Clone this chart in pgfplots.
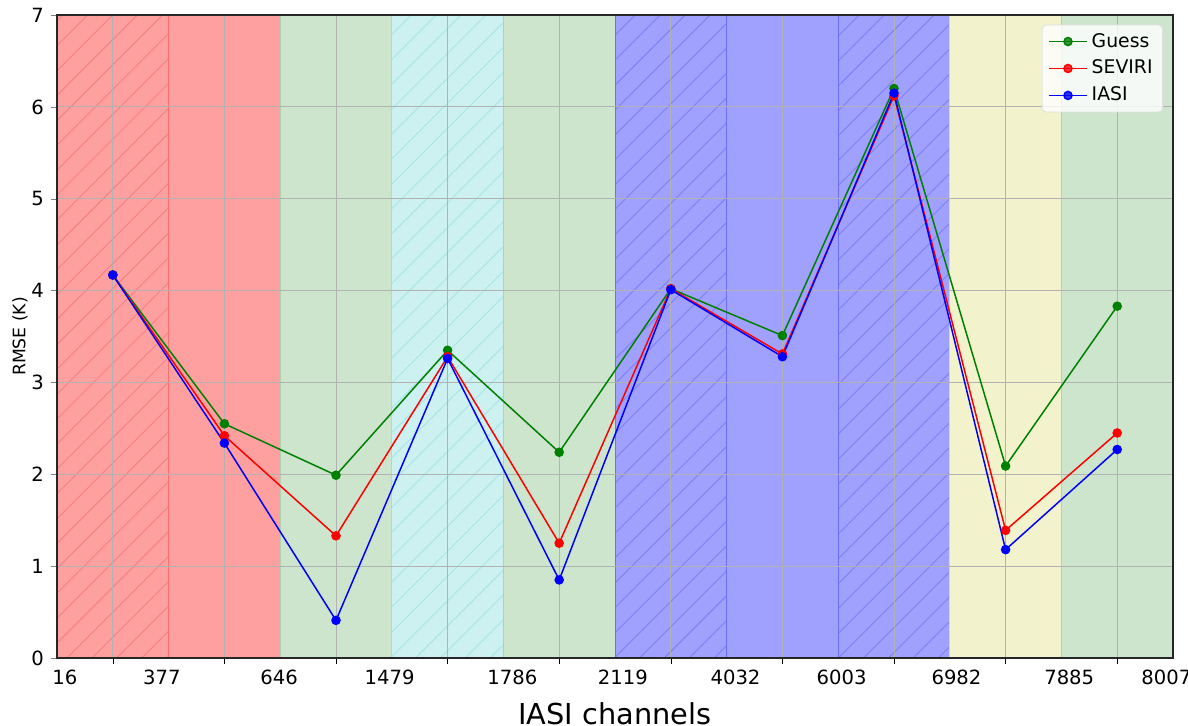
\documentclass[border=0pt]{standalone}
\usepackage{pgfplots}
\pgfplotsset{compat=1.18}
\usepackage{fontspec}
\setmainfont{DejaVu Sans}
\usetikzlibrary{patterns.meta}
\definecolor{redband}{RGB}{255,160,160}
\definecolor{rededge}{RGB}{255,110,110}
\definecolor{redhatch}{RGB}{245,128,128}
\definecolor{greenband}{RGB}{205,228,205}
\definecolor{greenedge}{RGB}{175,210,175}
\definecolor{cyanband}{RGB}{205,240,240}
\definecolor{cyanedge}{RGB}{160,225,215}
\definecolor{cyanhatch}{RGB}{168,228,228}
\definecolor{blueband}{RGB}{160,160,255}
\definecolor{blueedge}{RGB}{110,110,250}
\definecolor{bluehatch}{RGB}{128,128,245}
\definecolor{yellowband}{RGB}{242,242,205}
\definecolor{yellowedge}{RGB}{212,222,170}
\definecolor{mgreen}{RGB}{0,128,0}
\definecolor{gridgray}{RGB}{178,178,178}
\pgfplotstableread{
x guess seviri iasi
0.5 4.17 4.17 4.17
1.5 2.55 2.42 2.34
2.5 1.99 1.33 0.41
3.5 3.35 3.28 3.26
4.5 2.24 1.25 0.85
5.5 4.02 4.02 4.01
6.5 3.51 3.31 3.28
7.5 6.20 6.12 6.15
8.5 2.09 1.39 1.18
9.5 3.83 2.45 2.27
}\datatable
\tikzset{hatch/.style={postaction={pattern={Lines[angle=45,distance=8.8pt,line width=0.45pt]},pattern color=#1}}}
\begin{document}
\begin{tikzpicture}
\begin{axis}[
  set layers,
  scale only axis,
  width=558pt, height=321.5pt,
  xmin=0, xmax=10, ymin=0, ymax=7,
  xtick={0.07,0.94,1.99,2.98,4.08,5.07,6.08,7.03,8.06,9.07,9.94},
  xticklabels={16,377,646,1479,1786,2119,4032,6003,6982,7885,8007},
  minor xtick={0.5,1.5,...,9.5},
  ytick={0,...,7},
  tick align=outside,
  xtick pos=bottom, ytick pos=left,
  x tick style={draw=none},
  minor x tick style={draw=black},
  minor tick length=3pt,
  major tick length=3pt,
  xminorgrids, ymajorgrids,
  grid style={gridgray, line width=0.5pt},
  minor grid style={gridgray, line width=0.5pt},
  axis line style={line width=0.6pt, black!85},
  /pgf/number format/assume math mode=true,
  tick label style={font=\fontsize{9.8}{11}\selectfont},
  xticklabel style={yshift=0.5pt},
  xlabel={IASI channels},
  ylabel={RMSE (K)},
  xlabel style={font=\fontsize{14.4}{16}\selectfont, yshift=-2pt},
  ylabel style={font=\fontsize{8.6}{10}\selectfont},
  ylabel shift=-5pt,
  legend style={at={(rel axis cs:0.991,0.985)}, anchor=north east,
    font=\fontsize{9.4}{11}\selectfont, draw=black!12, rounded corners=2pt,
    fill=white, fill opacity=0.8, text opacity=1, row sep=1pt,
    inner xsep=3pt, inner ysep=2pt},
  legend cell align=left,
  legend image code/.code={\draw[mark repeat=2,mark phase=2] plot coordinates {(0pt,0pt) (9.5pt,0pt) (19pt,0pt)};},
]
% bands
\addplot[forget plot, on layer=axis background, fill=redband, draw=rededge, line width=0.5pt, hatch=redhatch] coordinates {(0,0)(0,7)(1,7)(1,0)(0,0)};
\addplot[forget plot, on layer=axis background, fill=redband, draw=rededge, line width=0.5pt] coordinates {(1,0)(1,7)(2,7)(2,0)(1,0)};
\addplot[forget plot, on layer=axis background, fill=greenband, draw=greenedge, line width=0.5pt] coordinates {(2,0)(2,7)(3,7)(3,0)(2,0)};
\addplot[forget plot, on layer=axis background, fill=cyanband, draw=cyanedge, line width=0.5pt, hatch=cyanhatch] coordinates {(3,0)(3,7)(4,7)(4,0)(3,0)};
\addplot[forget plot, on layer=axis background, fill=greenband, draw=greenedge, line width=0.5pt] coordinates {(4,0)(4,7)(5,7)(5,0)(4,0)};
\addplot[forget plot, on layer=axis background, fill=blueband, draw=blueedge, line width=0.5pt, hatch=bluehatch] coordinates {(5,0)(5,7)(6,7)(6,0)(5,0)};
\addplot[forget plot, on layer=axis background, fill=blueband, draw=blueedge, line width=0.5pt] coordinates {(6,0)(6,7)(7,7)(7,0)(6,0)};
\addplot[forget plot, on layer=axis background, fill=blueband, draw=blueedge, line width=0.5pt, hatch=bluehatch] coordinates {(7,0)(7,7)(8,7)(8,0)(7,0)};
\addplot[forget plot, on layer=axis background, fill=yellowband, draw=yellowedge, line width=0.5pt] coordinates {(8,0)(8,7)(9,7)(9,0)(8,0)};
\addplot[forget plot, on layer=axis background, fill=greenband, draw=greenedge, line width=0.5pt] coordinates {(9,0)(9,7)(10,7)(10,0)(9,0)};
% series
\addplot[mgreen, line width=0.75pt, mark=*, mark size=2pt] table[x=x, y=guess] {\datatable};
\addlegendentry{Guess}
\addplot[red, line width=0.75pt, mark=*, mark size=2pt] table[x=x, y=seviri] {\datatable};
\addlegendentry{SEVIRI}
\addplot[blue, line width=0.75pt, mark=*, mark size=2pt] table[x=x, y=iasi] {\datatable};
\addlegendentry{IASI}
\coordinate (sw) at (rel axis cs:0,0);
\end{axis}
\pgfresetboundingbox
\path[use as bounding box] (sw) ++(-28.5pt,-33.5pt) rectangle ++(594pt,362.5pt);
\end{tikzpicture}
\end{document}
